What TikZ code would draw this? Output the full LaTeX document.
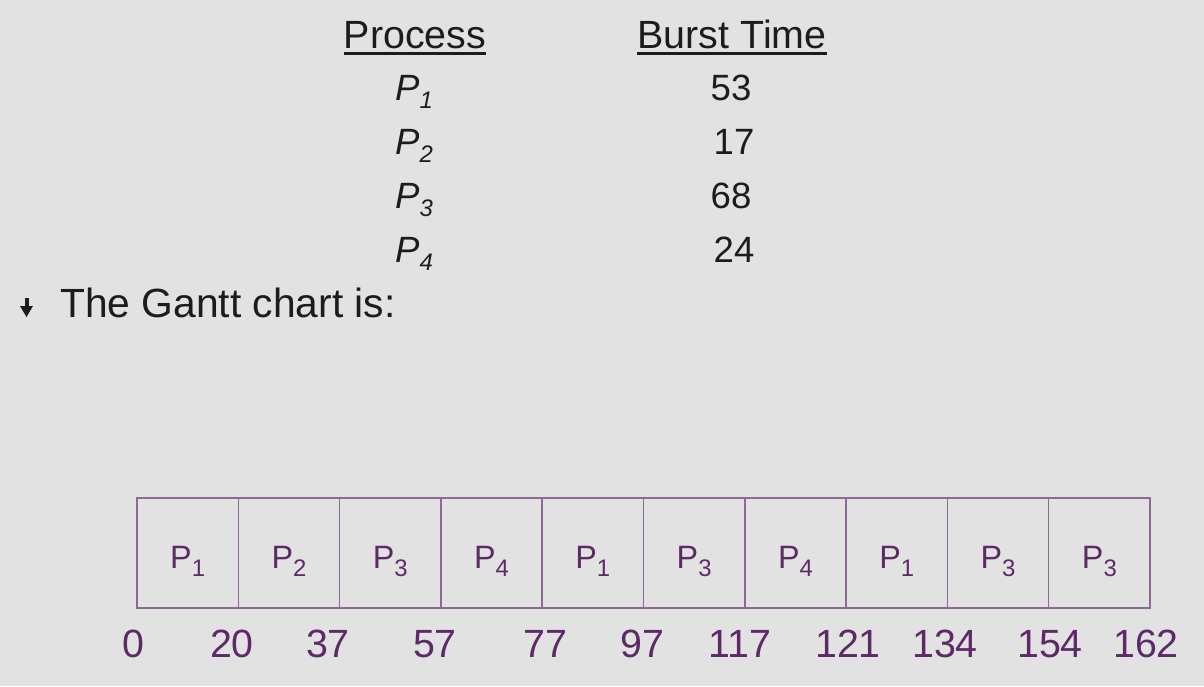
\documentclass[tikz,border=0pt]{standalone}
\usepackage{fontspec}
\setmainfont{Liberation Sans}
\usetikzlibrary{positioning, arrows.meta}
\definecolor{slidebg}{HTML}{E2E2E2}
\definecolor{slidetext}{HTML}{1C1C1C}
\definecolor{ganttpurple}{HTML}{5C2A66}
\definecolor{ganttline}{HTML}{8C6A94}
\newcommand{\psub}[1]{\raisebox{-6pt}{\fontsize{17}{20}\selectfont #1}}

\begin{document}
\begin{tikzpicture}[x=0.025cm, y=-0.025cm,
  cell/.style={draw=ganttline, line width=1.1pt, minimum width=2.5325cm, minimum height=2.75cm, inner sep=0pt,
    text height=0.85cm, text depth=0.1cm, text=ganttpurple, font=\fontsize{23}{27}\selectfont},
  timelabel/.style={anchor=base, inner sep=0pt, text=ganttpurple, font=\fontsize{28}{32}\selectfont},
  head/.style={anchor=base, inner sep=0pt, text=slidetext, font=\fontsize{28}{32}\selectfont},
  entry/.style={anchor=base, inner sep=0pt, text=slidetext, font=\fontsize{26}{30}\selectfont}]

% Background
\fill[slidebg] (0,0) rectangle (1204,686);

% Table header
\node[head] (hproc) at (415,48) {Process};
\node[head] (hburst) at (732,48) {Burst Time};
\draw[slidetext, line width=1.8pt] ([yshift=-4pt]hproc.base west) -- ([yshift=-4pt]hproc.base east);
\draw[slidetext, line width=1.8pt] ([yshift=-4pt]hburst.base west) -- ([yshift=-4pt]hburst.base east);

% Table rows
\foreach \i/\y/\b/\dx in {1/100/53/0, 2/154/17/3, 3/208/68/0, 4/262/24/3} {
  \node[entry] (p\i) at (414,\y) {\itshape P\psub{\i}};
  \node[entry] (b\i) at (731+\dx,\y) {\b};
}

% Bullet
\fill[slidetext] (24.5,298) rectangle (28.5,308);
\fill[slidetext] (20,306) -- (33,306) -- (26.5,317) -- cycle;
\node[anchor=base west, inner sep=0pt, text=slidetext, font=\fontsize{29}{33}\selectfont] (gtext) at (60,317) {The Gantt chart is:};

% Gantt chart cells
\foreach \p [count=\i] in {1,2,3,4,1,3,4,1,3,3} {
  \node[cell] (c\i) at ({137+101.3*(\i-0.5)},553) {P\psub{\p}};
}

% Times
\foreach \x/\t in {133/0, 232/20, 328/37, 435/57, 545/77, 642/97, 740/117, 848/121, 945/134, 1050/154, 1146/162} {
  \node[timelabel] (t\t) at (\x,657) {\t};
}

\end{tikzpicture}
\end{document}
